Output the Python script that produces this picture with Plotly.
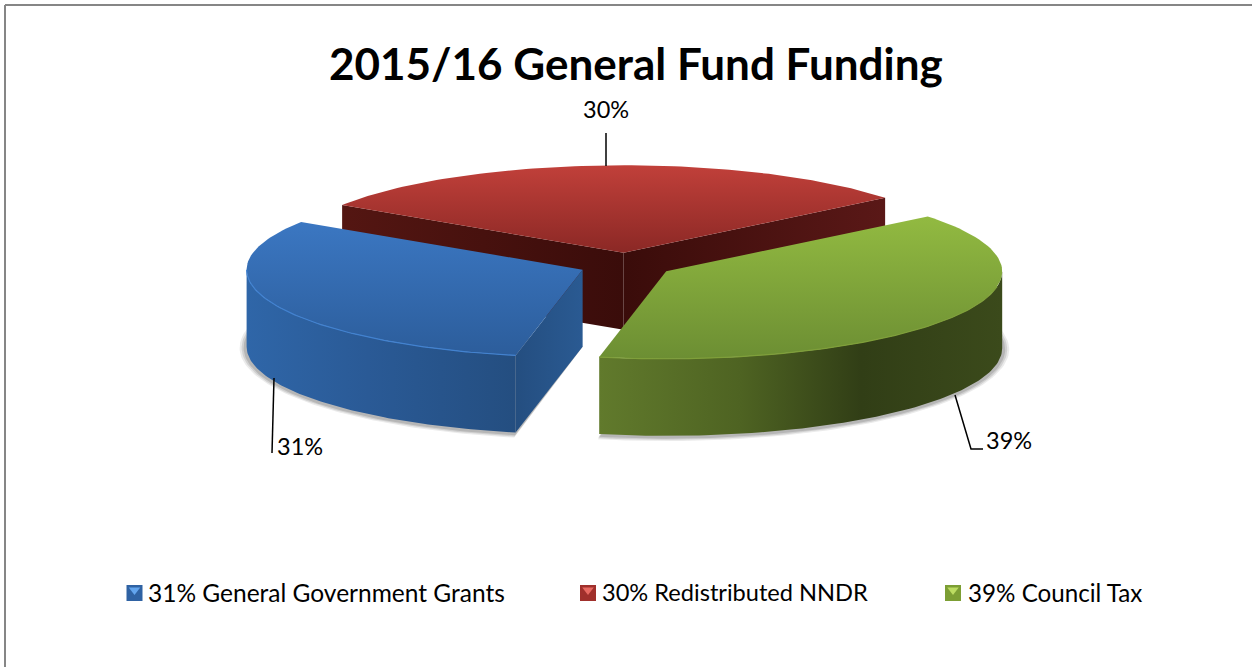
"""2015/16 General Fund Funding as an exploded 3D pie, projected by hand onto a pixel-sized axis.

Plotly has no 3D pie, so each slice is built from its value: top face, outer wall and
radial walls are filled Scatter traces painted back to front.
"""
import numpy as np
import plotly.graph_objects as go

WIDTH = 1252
HEIGHT = 667

TITLE = "2015/16 General Fund Funding"
CATEGORIES = ["General Government Grants", "Redistributed NNDR", "Council Tax"]
VALUES = [31, 30, 39]

FIRST_ANGLE = 191.5  # degrees clockwise from the back of the pie
CENTER = (626, 265)
RX, RY = 336, 87.5
DEPTH = 77
EXPLODE = 0.14

FONT = "Lato"
INK = "#000000"

# vertical fillgradient runs bottom-up on screen here, so the darker colour comes first
TOP_COLORS = [("#2c5d9b", "#3b77c2"), ("#8b2825", "#c1403a"), ("#6c8e33", "#92ba41")]
EDGE_COLORS = ["#4282d0", None, "#7f9f3a"]
KEY_COLORS = [("#2f62a3", "#63a5ee"), ("#a0302c", "#e86a62"), ("#7c9e34", "#bcdc62")]

BLUE_WALL = [[0, "#2f66a8"], [0.45, "#2a5a96"], [1, "#244e80"]]
BLUE_FACE = [[0, "#244e80"], [1, "#2a5a92"]]
RED_LEFT = [[0, "#541612"], [1, "#3a0c0a"]]
RED_RIGHT = [[0, "#3a0c0a"], [1, "#5a1817"]]
GREEN_WALL = [[0, "#617a2c"], [0.35, "#4e6322"], [0.65, "#313e16"], [1, "#3b4a1b"]]


def slice_angles():
    edges = FIRST_ANGLE + np.cumsum([0] + VALUES) / sum(VALUES) * 360
    out = []
    for i in range(len(VALUES)):
        start = edges[i] % 360
        out.append((start, start + edges[i + 1] - edges[i]))
    return out


def slice_center(start, end):
    mid = np.radians((start + end) / 2)
    return (
        CENTER[0] + EXPLODE * RX * np.sin(mid),
        CENTER[1] - EXPLODE * RY * np.cos(mid),
    )


def arc(center, start, end, dy=0, grow=0):
    theta = np.radians(np.linspace(start, end, 90))
    return (
        center[0] + (RX + grow) * np.sin(theta),
        center[1] + dy - (RY + grow * 0.6) * np.cos(theta),
    )


def add_face(fig, xs, ys, colorscale, kind):
    fig.add_trace(
        go.Scatter(
            x=xs,
            y=ys,
            mode="lines",
            fill="toself",
            fillgradient=dict(type=kind, colorscale=colorscale),
            line=dict(width=0),
            hoverinfo="skip",
            showlegend=False,
        )
    )


def add_wall(fig, center, start, end, colorscale):
    """Outer wall of a slice between two angles."""
    ax, ay = arc(center, start, end)
    bx, by = arc(center, start, end, dy=DEPTH)
    add_face(fig, np.r_[ax, bx[::-1]], np.r_[ay, by[::-1]], colorscale, "horizontal")


def add_radial_wall(fig, center, angle, colorscale):
    ex, ey = arc(center, angle, angle)
    xs = [center[0], ex[0], ex[0], center[0]]
    ys = [center[1], ey[0], ey[0] + DEPTH, center[1] + DEPTH]
    add_face(fig, xs, ys, colorscale, "horizontal")


def add_shadow(fig, center, start, end):
    for grow, alpha in [(7, 0.10), (5, 0.14), (3, 0.18)]:
        sx, sy = arc(center, start, end, dy=DEPTH + 1, grow=grow)
        fig.add_trace(
            go.Scatter(
                x=np.r_[center[0], sx],
                y=np.r_[center[1] + DEPTH, sy],
                mode="lines",
                fill="toself",
                fillcolor=f"rgba(60,60,60,{alpha})",
                line=dict(width=0),
                hoverinfo="skip",
                showlegend=False,
            )
        )


def add_top(fig, i, center, start, end):
    ax, ay = arc(center, start, end)
    colors = TOP_COLORS[i]
    add_face(
        fig,
        np.r_[center[0], ax],
        np.r_[center[1], ay],
        [[0, colors[0]], [1, colors[1]]],
        "vertical",
    )


def add_edge(fig, center, start, end, color):
    ax, ay = arc(center, start, end)
    fig.add_trace(
        go.Scatter(
            x=ax,
            y=ay,
            mode="lines",
            line=dict(color=color, width=1.2),
            hoverinfo="skip",
            showlegend=False,
        )
    )


angles = slice_angles()
centers = [slice_center(*a) for a in angles]
fig = go.Figure()

# soft shadows sit under everything
add_shadow(fig, centers[0], *angles[0])
add_shadow(fig, centers[2], *angles[2])

# red is furthest back, only its two radial walls show
add_radial_wall(fig, centers[1], angles[1][0], RED_LEFT)
add_radial_wall(fig, centers[1], angles[1][1], RED_RIGHT)
add_top(fig, 1, centers[1], *angles[1])

# blue: outer wall runs from its front edge round to the left extreme
add_radial_wall(fig, centers[0], angles[0][0], BLUE_FACE)
add_wall(fig, centers[0], angles[0][0], 270, BLUE_WALL)
add_top(fig, 0, centers[0], *angles[0])
add_edge(fig, centers[0], angles[0][0], 270, EDGE_COLORS[0])

# green: outer wall from the right extreme round to its front edge
add_wall(fig, centers[2], 90, angles[2][1], GREEN_WALL)
add_top(fig, 2, centers[2], *angles[2])
add_edge(fig, centers[2], 100, angles[2][1], EDGE_COLORS[2])

# leader lines
LEADERS = [
    ([274, 272], [378, 453]),
    ([606, 606], [133, 166]),
    ([955, 971, 983], [395, 449, 449]),
]
for lx, ly in LEADERS:
    fig.add_trace(
        go.Scatter(
            x=lx,
            y=ly,
            mode="lines",
            line=dict(color=INK, width=1.5),
            hoverinfo="skip",
            showlegend=False,
        )
    )

# data labels
LABEL_POS = [(300, 446), (606, 109), (1009, 440)]
for value, (lx, ly) in zip(VALUES, LABEL_POS):
    fig.add_annotation(
        x=lx,
        y=ly,
        text=f"{value}%",
        showarrow=False,
        font=dict(family=FONT, size=23.5, color=INK),
    )

# legend is drawn by hand so its bevelled keys and spacing match
KEY_X = [134.5, 588, 953]
TEXT_X = [146, 600, 966]
TEXT_SIZE = [24.5, 23.6, 24.2]  # Lato runs wider than the original on the capitals
LEGEND_Y = 593
for i, name in enumerate(CATEGORIES):
    fig.add_trace(
        go.Scatter(
            x=[KEY_X[i]],
            y=[LEGEND_Y],
            mode="markers",
            marker=dict(symbol="square", size=16, color=KEY_COLORS[i][0]),
            hoverinfo="skip",
            showlegend=False,
        )
    )
    fig.add_trace(
        go.Scatter(
            x=[KEY_X[i]],
            y=[LEGEND_Y - 3],
            mode="markers",
            marker=dict(symbol="triangle-down", size=10, color=KEY_COLORS[i][1]),
            hoverinfo="skip",
            showlegend=False,
        )
    )
    fig.add_annotation(
        x=TEXT_X[i],
        y=LEGEND_Y - 1,
        xanchor="left",
        text=f"{VALUES[i]}% {name}",
        showarrow=False,
        font=dict(family=FONT, size=TEXT_SIZE[i], color=INK),
    )

fig.add_annotation(
    x=636,
    y=63,
    text=f"<b>{TITLE}</b>",
    showarrow=False,
    font=dict(family=FONT, size=44, color=INK),
)

# chart-area border only survives along the top and left of the crop
fig.add_shape(type="line", x0=5, x1=WIDTH, y0=5, y1=5, line=dict(color="#868686", width=2))
fig.add_shape(type="line", x0=5, x1=5, y0=5, y1=HEIGHT, line=dict(color="#868686", width=2))

fig.update_layout(
    width=WIDTH,
    height=HEIGHT,
    margin=dict(l=0, r=0, t=0, b=0),
    paper_bgcolor="white",
    plot_bgcolor="white",
    xaxis=dict(visible=False, range=[0, WIDTH], fixedrange=True),
    yaxis=dict(visible=False, range=[HEIGHT, 0], fixedrange=True),
)
# the default page margin would push the figure 8px in
fig.write_html(
    "out.html",
    config={"displayModeBar": False},
    post_script="document.body.style.margin='0';document.body.style.overflow='hidden';",
)
